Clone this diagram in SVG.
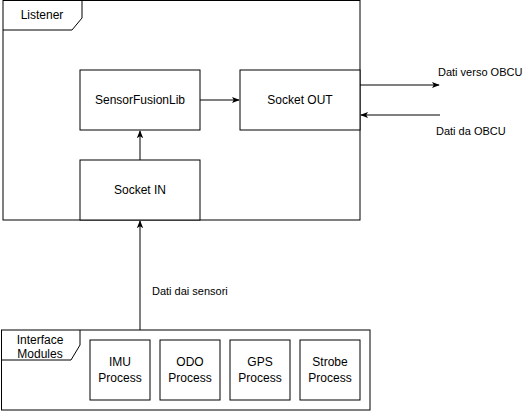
<svg xmlns="http://www.w3.org/2000/svg" width="523" height="411" viewBox="0 0 523 411">
<style>
.box{fill:#fff;stroke:#000;stroke-width:1}
.frame{fill:none;stroke:#000;stroke-width:1}
.t{font-family:"Liberation Sans",Arial,sans-serif;font-size:12px;fill:#000;text-anchor:middle}
.l{font-family:"Liberation Sans",Arial,sans-serif;font-size:11px;fill:#000}
.c{fill:none;stroke:#000;stroke-width:1}
</style>
<defs>
<marker id="ah" viewBox="0 0 10 10" refX="9" refY="5" markerWidth="8" markerHeight="8" markerUnits="userSpaceOnUse" orient="auto">
<path d="M0,1 L10,5 L0,9 L2.5,5 Z" fill="#000"/>
</marker>
</defs>
<rect x="0" y="0" width="523" height="411" fill="#fff"/>
<g id="listener">
<rect class="frame" x="3" y="0.5" width="357" height="219.5"/>
<path class="frame" d="M82,0.5 V18 L72,30 H3"/>
<text class="t" x="42" y="19">Listener</text>
</g>
<g id="interface-modules">
<rect class="frame" x="1.5" y="330" width="368.5" height="80"/>
<path class="frame" d="M80,330 V345 L71,360 H1.5"/>
<text class="t" x="40" y="344">Interface</text>
<text class="t" x="40" y="358">Modules</text>
</g>
<g id="sensorfusionlib">
<rect class="box" x="80" y="70" width="120" height="60"/>
<text class="t" x="140" y="104">SensorFusionLib</text>
</g>
<g id="socket-out">
<rect class="box" x="240" y="70" width="120" height="60"/>
<text class="t" x="300" y="104">Socket OUT</text>
</g>
<g id="socket-in">
<rect class="box" x="80" y="160" width="120" height="60"/>
<text class="t" x="140" y="194">Socket IN</text>
</g>
<g id="imu">
<rect class="box" x="90" y="340" width="60" height="60"/>
<text class="t" x="120" y="366">IMU</text>
<text class="t" x="120" y="382">Process</text>
</g>
<g id="odo">
<rect class="box" x="160" y="340" width="60" height="60"/>
<text class="t" x="190" y="366">ODO</text>
<text class="t" x="190" y="382">Process</text>
</g>
<g id="gps">
<rect class="box" x="230" y="340" width="60" height="60"/>
<text class="t" x="260" y="366">GPS</text>
<text class="t" x="260" y="382">Process</text>
</g>
<g id="strobe">
<rect class="box" x="300" y="340" width="60" height="60"/>
<text class="t" x="330" y="366">Strobe</text>
<text class="t" x="330" y="382">Process</text>
</g>
<g id="connectors">
<path class="c" d="M200,100 H239" marker-end="url(#ah)"/>
<path class="c" d="M140,160 V131" marker-end="url(#ah)"/>
<path class="c" d="M360,85 H439" marker-end="url(#ah)"/>
<path class="c" d="M440,115 H361" marker-end="url(#ah)"/>
<path class="c" d="M140,330 V221" marker-end="url(#ah)"/>
<text class="l" x="438" y="76">Dati verso OBCU</text>
<text class="l" x="436" y="135">Dati da OBCU</text>
<text class="l" x="152" y="295">Dati dai sensori</text>
</g>
</svg>
